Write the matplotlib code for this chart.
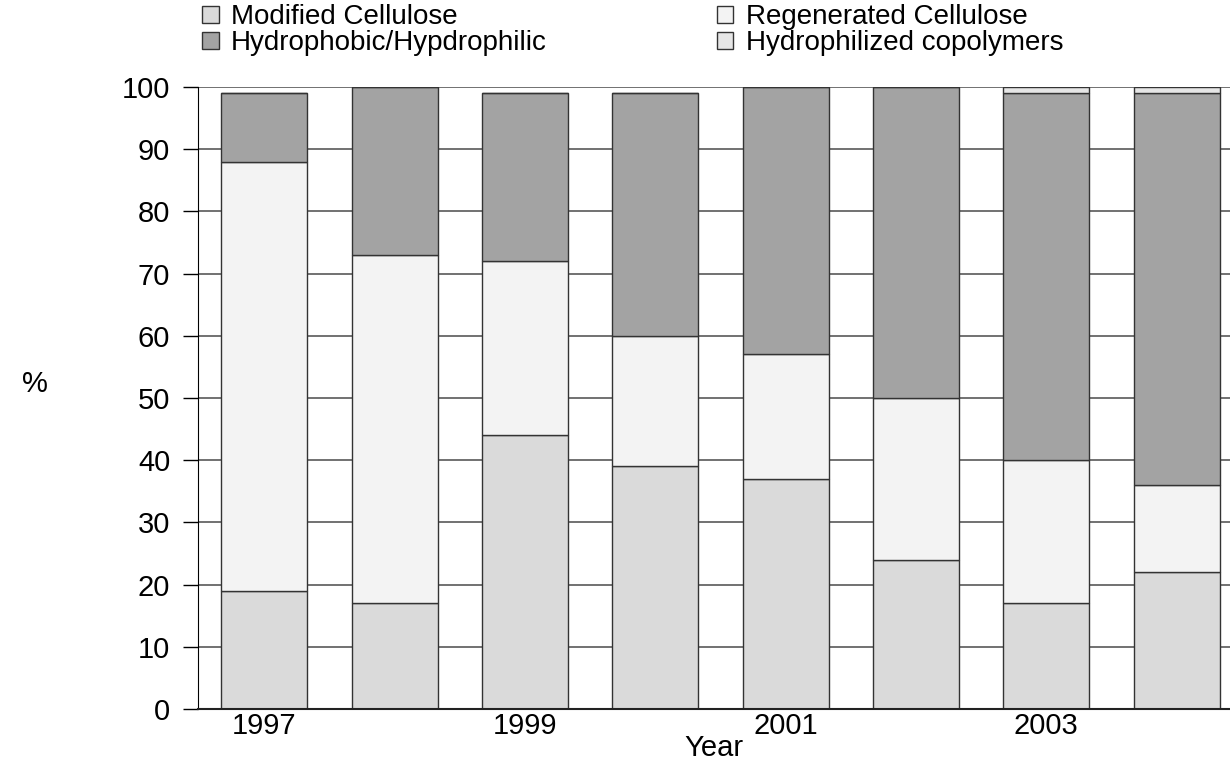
import numpy as np
import matplotlib
matplotlib.use("Agg")
import matplotlib.pyplot as plt

plt.rcParams['font.family'] = ['Liberation Sans', 'DejaVu Sans']

years = [1997, 1998, 1999, 2000, 2001, 2002, 2003, 2004]
tick_years = [1997, 1999, 2001, 2003]

modified = [19, 17, 44, 39, 37, 24, 17, 22]
regenerated = [69, 56, 28, 21, 20, 26, 23, 14]
hydrophobic = [11, 27, 27, 39, 43, 50, 59, 63]
hydrophilized = [0, 0, 0, 0, 0, 0, 1, 1]

series = [
    ("Modified Cellulose", modified, "#dadada"),
    ("Regenerated Cellulose", regenerated, "#f3f3f3"),
    ("Hydrophobic/Hypdrophilic", hydrophobic, "#a3a3a3"),
    ("Hydrophilized copolymers", hydrophilized, "#e6e6e6"),
]

fig = plt.figure(figsize=(12.3, 7.68), dpi=100)
ax = fig.add_axes([0.161, 0.0768, 0.839, 0.81])

bottom = np.zeros(len(years))
handles = []
for name, vals, col in series:
    vals = np.array(vals, dtype=float)
    h = ax.bar(years, vals, width=0.66, bottom=bottom, color=col,
               edgecolor="#333333", linewidth=1.0, label=name, zorder=2)
    handles.append(h)
    bottom += vals

ax.set_ylim(0, 100)
ax.set_xlim(1996.49, 2004.41)
ax.set_yticks(range(0, 101, 10))
ax.set_xticks(tick_years)
ax.tick_params(axis='y', direction='out', length=11, width=1, pad=9, labelsize=21)
ax.tick_params(axis='x', length=0, pad=2, labelsize=21)
ax.yaxis.grid(True, color="#666666", linewidth=1.3, zorder=0)
ax.set_axisbelow(True)
for s in ['top', 'right']:
    ax.spines[s].set_visible(False)
ax.spines['left'].set_color('black')
ax.spines['bottom'].set_color('#222222')
ax.spines['bottom'].set_linewidth(1.5)

ax.set_xlabel("Year", fontsize=21, labelpad=-4)
fig.text(0.018, 0.5, "%", fontsize=21, ha='left', va='center')

# legend: two columns, order as in the picture
order = [0, 2, 1, 3]
fig.legend([handles[i] for i in order], [series[i][0] for i in order],
           ncol=2, loc='upper left', bbox_to_anchor=(0.162, 0.998),
           frameon=False, fontsize=20, handlelength=0.6, handleheight=0.6,
           handletextpad=0.45, columnspacing=6.1, labelspacing=0.0,
           borderaxespad=0, borderpad=0.1)

fig.savefig("out.png", dpi=100)
